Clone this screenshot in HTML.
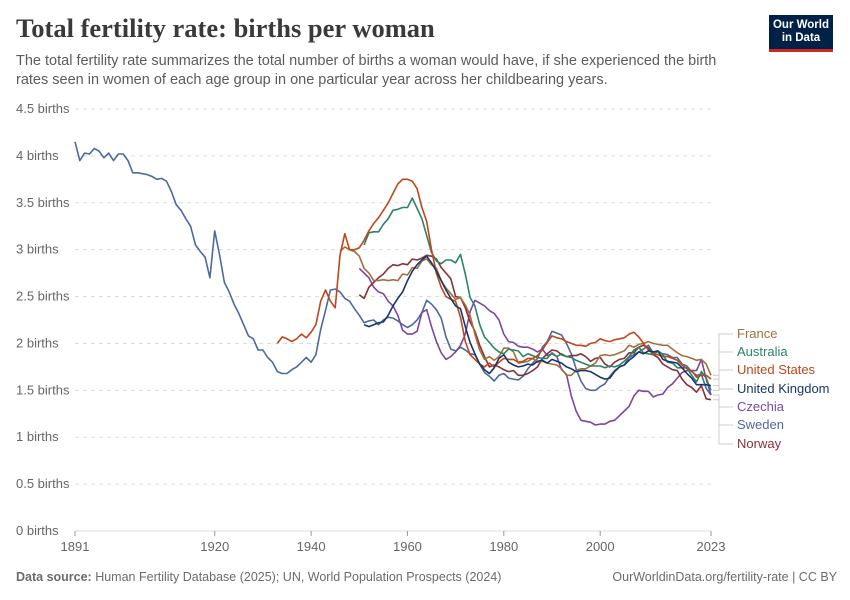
<!DOCTYPE html>
<html><head><meta charset="utf-8">
<style>
body{margin:0;background:#fff;font-family:"Liberation Sans",sans-serif;}
#wrap{position:relative;width:850px;height:600px;overflow:hidden;}
.title{position:absolute;left:16px;top:13px;font-family:"Liberation Serif",serif;font-size:26.5px;color:#3a3a3a;font-weight:bold;}
.sub{position:absolute;left:16px;top:52px;width:728px;font-size:14.5px;line-height:19px;color:#5b5b5b;}
.logo{position:absolute;left:769px;top:15px;width:64px;height:37px;background:#002147;color:#fff;font-size:11.5px;line-height:13px;text-align:center;border-bottom:3px solid #ce261e;box-sizing:border-box;padding-top:4px;font-weight:bold;}
.foot{position:absolute;top:570px;font-size:12.5px;color:#6b6b6b;}
</style></head><body>
<div id="wrap">
<div class="title">Total fertility rate: births per woman</div>
<div class="sub">The total fertility rate summarizes the total number of births a woman would have, if she experienced the birth rates seen in women of each age group in one particular year across her childbearing years.</div>
<div class="logo">Our World<br>in Data</div>
<svg id="chart" width="850" height="600" style="position:absolute;left:0;top:0"></svg>
<div class="foot" style="left:16px"><b>Data source:</b> Human Fertility Database (2025); UN, World Population Prospects (2024)</div>
<div class="foot" style="right:13px">OurWorldinData.org/fertility-rate | CC BY</div>
</div>
<script>
const yTicks=[0,0.5,1,1.5,2,2.5,3,3.5,4,4.5];
const xTicks=[1891,1920,1940,1960,1980,2000,2023];
const seriesNames=["France","Australia","United States","United Kingdom","Czechia","Sweden","Norway"];
const seriesColors=["#a2703c","#2c8465","#c0461b","#18376b","#7b47a3","#4c6a9c","#883039"];
const seriesStart=[1946,1951,1933,1951,1950,1891,1950];
const franceVals=[2.98,3.03,3.0,2.98,2.93,2.8,2.75,2.67,2.67,2.68,2.67,2.68,2.67,2.74,2.73,2.81,2.8,2.88,2.9,2.84,2.8,2.67,2.59,2.53,2.47,2.49,2.41,2.3,2.1,1.93,1.83,1.86,1.82,1.86,1.95,1.95,1.91,1.79,1.8,1.81,1.84,1.8,1.81,1.79,1.78,1.77,1.73,1.66,1.66,1.71,1.73,1.73,1.76,1.79,1.87,1.88,1.87,1.88,1.9,1.92,1.98,1.96,1.99,2.0,2.02,2.0,1.99,1.98,1.98,1.94,1.9,1.87,1.86,1.84,1.82,1.83,1.78,1.66];
const australiaVals=[3.05,3.18,3.19,3.19,3.27,3.33,3.42,3.43,3.45,3.45,3.55,3.44,3.33,3.15,2.97,2.88,2.85,2.89,2.89,2.86,2.95,2.74,2.49,2.4,2.2,2.07,2.01,1.95,1.91,1.89,1.94,1.93,1.92,1.86,1.89,1.87,1.85,1.84,1.84,1.9,1.86,1.89,1.86,1.85,1.82,1.8,1.78,1.76,1.76,1.76,1.74,1.76,1.75,1.77,1.81,1.86,1.93,1.96,1.9,1.89,1.88,1.92,1.88,1.8,1.79,1.74,1.74,1.74,1.66,1.59,1.7,1.63,1.5];
const usVals=[2.0,2.07,2.05,2.02,2.05,2.1,2.06,2.12,2.2,2.45,2.57,2.45,2.38,2.94,3.17,3.0,3.0,3.02,3.1,3.2,3.28,3.34,3.42,3.5,3.6,3.7,3.75,3.75,3.73,3.65,3.45,3.3,3.0,2.75,2.6,2.5,2.47,2.45,2.28,2.02,1.88,1.83,1.78,1.75,1.79,1.75,1.8,1.84,1.83,1.83,1.8,1.81,1.84,1.84,1.87,1.93,2.01,2.08,2.06,2.05,2.02,2.0,1.98,1.98,1.97,2.0,2.01,2.05,2.03,2.02,2.04,2.05,2.06,2.1,2.12,2.07,2.0,1.93,1.89,1.88,1.86,1.86,1.84,1.82,1.77,1.73,1.71,1.64,1.66,1.66,1.62];
const ukVals=[2.2,2.18,2.2,2.22,2.23,2.3,2.4,2.48,2.55,2.67,2.77,2.84,2.89,2.93,2.86,2.77,2.67,2.57,2.48,2.4,2.37,2.18,2.01,1.89,1.78,1.72,1.68,1.74,1.84,1.88,1.8,1.77,1.75,1.76,1.78,1.77,1.81,1.82,1.79,1.83,1.81,1.79,1.75,1.73,1.7,1.71,1.71,1.7,1.67,1.64,1.62,1.63,1.7,1.75,1.77,1.82,1.86,1.91,1.89,1.92,1.91,1.92,1.83,1.81,1.8,1.79,1.74,1.68,1.63,1.56,1.56,1.56,1.55];
const czVals=[2.8,2.75,2.7,2.6,2.55,2.53,2.45,2.4,2.3,2.14,2.1,2.1,2.13,2.33,2.36,2.18,2.02,1.9,1.83,1.86,1.91,1.98,2.1,2.34,2.46,2.43,2.4,2.35,2.32,2.25,2.1,2.02,2.01,1.97,1.96,1.96,1.94,1.91,1.94,1.87,1.89,1.86,1.72,1.67,1.44,1.28,1.18,1.17,1.16,1.13,1.14,1.14,1.17,1.18,1.23,1.28,1.33,1.44,1.5,1.49,1.49,1.43,1.45,1.46,1.53,1.57,1.63,1.69,1.71,1.71,1.71,1.83,1.62,1.45];
const swVals=[4.15,3.95,4.03,4.02,4.08,4.05,3.98,4.03,3.95,4.02,4.02,3.95,3.82,3.82,3.81,3.8,3.78,3.75,3.76,3.73,3.62,3.48,3.42,3.33,3.25,3.05,2.98,2.92,2.7,3.2,2.95,2.65,2.55,2.42,2.32,2.2,2.08,2.05,1.93,1.93,1.85,1.8,1.7,1.68,1.68,1.72,1.75,1.8,1.85,1.8,1.88,2.15,2.35,2.57,2.58,2.55,2.48,2.45,2.37,2.3,2.22,2.24,2.25,2.2,2.25,2.28,2.27,2.24,2.2,2.17,2.2,2.25,2.33,2.46,2.42,2.36,2.27,2.07,1.94,1.92,1.96,1.93,1.89,1.88,1.78,1.69,1.65,1.6,1.66,1.68,1.63,1.62,1.61,1.65,1.73,1.79,1.84,1.96,2.02,2.13,2.11,2.09,2.0,1.89,1.73,1.6,1.52,1.5,1.5,1.54,1.57,1.65,1.71,1.75,1.77,1.85,1.88,1.91,1.94,1.98,1.9,1.91,1.89,1.88,1.85,1.85,1.78,1.76,1.7,1.66,1.67,1.52,1.45];
const noVals=[2.52,2.48,2.6,2.65,2.7,2.74,2.8,2.84,2.83,2.85,2.84,2.9,2.89,2.91,2.94,2.93,2.9,2.81,2.75,2.69,2.5,2.49,2.38,2.23,2.13,1.98,1.86,1.75,1.77,1.75,1.72,1.7,1.71,1.66,1.66,1.68,1.71,1.75,1.84,1.89,1.93,1.92,1.88,1.86,1.87,1.87,1.89,1.86,1.81,1.84,1.85,1.78,1.75,1.8,1.83,1.84,1.9,1.9,1.96,1.98,1.95,1.88,1.85,1.78,1.75,1.72,1.71,1.62,1.56,1.53,1.48,1.55,1.41,1.4];
const allVals=[franceVals,australiaVals,usVals,ukVals,czVals,swVals,noVals];
const NS="http://www.w3.org/2000/svg";
const svg=document.getElementById('chart');
const X0=75,X1=711,Y0=531,Y1=109;
const xS=y=>X0+(y-1891)/(2023-1891)*(X1-X0);
const yS=v=>Y0-v/4.5*(Y0-Y1);
function mk(t,a){const e=document.createElementNS(NS,t);for(const k in a)e.setAttribute(k,a[k]);svg.appendChild(e);return e;}
yTicks.forEach(v=>{
  const l=mk('line',{x1:X0,x2:X1,y1:yS(v),y2:yS(v),stroke:'#ddd','stroke-dasharray':v===0?'none':'4,4'});
  
  
  const t=mk('text',{x:16,y:yS(v)+4,'font-size':13,fill:'#666','font-family':'Liberation Sans, sans-serif'});
  t.textContent=v+' births';
  
  
});
xTicks.forEach(v=>{
  const l=mk('line',{x1:xS(v),x2:xS(v),y1:Y0,y2:Y0+5,stroke:'#999'});
  
  
  const t=mk('text',{x:xS(v),y:Y0+20,'font-size':13,fill:'#666','text-anchor':'middle','font-family':'Liberation Sans, sans-serif'});
  t.textContent=v;
  
  
});
const drawOrder=[5,4,6,0,1,2,3];
drawOrder.forEach(i=>{
  const pts=allVals[i].map((v,k)=>xS(seriesStart[i]+k).toFixed(1)+','+yS(v).toFixed(1)).join(' ');
  const p=mk('polyline',{points:pts,fill:'none',stroke:seriesColors[i],'stroke-width':1.6,'stroke-linejoin':'round'});
  
  
});
const labelY=[334,352,370,389,407,425,444];
seriesNames.forEach((n,i)=>{
  const vals=allVals[i];const ey=yS(vals[vals.length-1]);
  const c=mk('path',{d:`M${X1+2},${ey} H${X1+8} V${labelY[i]} H${733}`,fill:'none',stroke:'#ccc','stroke-width':1});
  
  
  const t=mk('text',{x:737,y:labelY[i]+4,'font-size':13,fill:seriesColors[i],'font-family':'Liberation Sans, sans-serif'});
  t.textContent=n;
  
  
});
</script>
</body></html>
